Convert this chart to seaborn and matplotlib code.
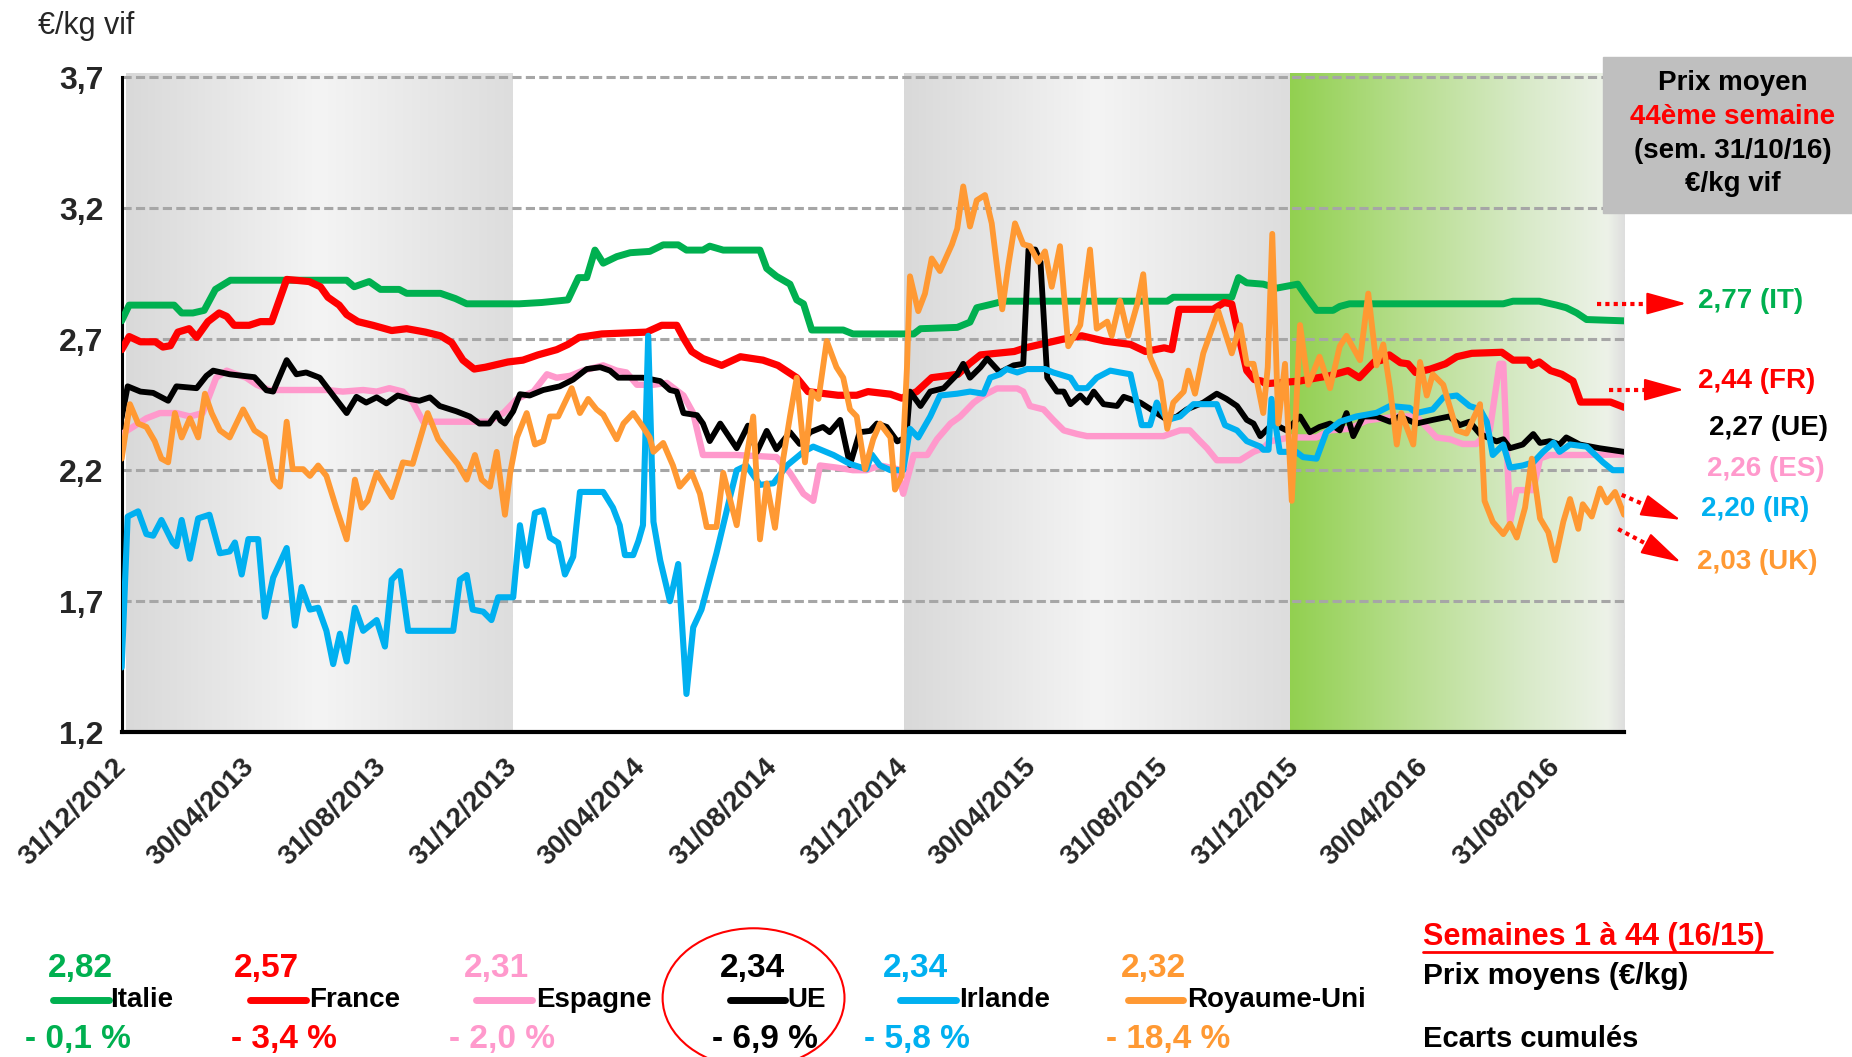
import numpy as np
import pandas as pd
import matplotlib
matplotlib.use('Agg')
import matplotlib.pyplot as plt
import matplotlib.dates as mdates
import seaborn as sns
from matplotlib.patches import Rectangle, Ellipse, FancyArrowPatch
from matplotlib.lines import Line2D

# semaines depuis le 31/12/2012, prix en €/kg vif
it_wk = [0, 1, 7, 8, 9.5, 11, 12.5, 14.5, 30, 31, 33, 34.5, 37, 38, 42.5, 44.5, 46, 53, 56, 59.5, 60.9, 62, 63.1, 64.2,
         66, 67.8, 70.4, 72.2, 74.2, 75.3, 77.5, 78.4, 80.2, 85.1, 86, 87.3, 89.1, 90, 90.9, 92, 96.2, 97.5, 105.6,
         106.5, 111.4, 113.1, 114, 116.2, 117.6, 139.4, 140.2, 148, 148.9, 150, 152.2, 154, 156.8, 158, 159.3, 161.5,
         162.4, 163.7, 184.2, 185.5, 189, 191.3, 192.6, 194, 195.3, 200.3]
it_val = [2.77, 2.83, 2.83, 2.80, 2.80, 2.81, 2.89, 2.925, 2.925, 2.90, 2.92, 2.89, 2.89, 2.875, 2.875, 2.855, 2.835,
          2.835, 2.84, 2.85, 2.935, 2.935, 3.04, 2.99, 3.015, 3.03, 3.035, 3.06, 3.06, 3.04, 3.04, 3.055, 3.04, 3.04,
          2.97, 2.94, 2.91, 2.85, 2.835, 2.735, 2.735, 2.72, 2.72, 2.74, 2.745, 2.765, 2.82, 2.835, 2.845, 2.845, 2.86,
          2.86, 2.935, 2.915, 2.91, 2.895, 2.91, 2.86, 2.81, 2.81, 2.825, 2.835, 2.835, 2.845, 2.845, 2.83, 2.82, 2.80,
          2.775, 2.77]

fr_wk = [0, 1, 2.5, 4.5, 5.5, 6.5, 7.5, 9, 10, 11.5, 13, 14, 15, 17, 18.5, 20, 22, 25, 26.5, 27.5, 29, 30, 31.5, 33.5,
         36, 38, 40.5, 42.5, 44, 45.5, 47, 48.5, 51.5, 53.5, 55.5, 58, 59.5, 61, 64, 70, 72, 74, 75, 76, 77.5, 80, 82.5,
         85.5, 87.5, 90, 91.5, 95.5, 98, 99.5, 102.5, 104, 106, 108, 111.5, 113, 114.5, 119, 120.5, 125.5, 128, 131,
         134.5, 136.5, 139, 140, 141, 145.5, 147, 148, 148.5, 150, 151, 152, 152.5, 157, 159.5, 161, 163.5, 165, 167,
         168, 169, 170.5, 171.5, 172.5, 174.5, 176.5, 178, 180, 184, 185.5, 187.5, 188, 189, 190.5, 192, 193.5, 194.5,
         198.5, 200.3]
fr_val = [2.66, 2.71, 2.69, 2.69, 2.67, 2.675, 2.727, 2.74, 2.707, 2.767, 2.80, 2.787, 2.753, 2.753, 2.767, 2.767,
          2.928, 2.92, 2.90, 2.86, 2.83, 2.794, 2.767, 2.753, 2.733, 2.74, 2.727, 2.713, 2.687, 2.62, 2.586, 2.593,
          2.613, 2.62, 2.64, 2.66, 2.68, 2.707, 2.72, 2.727, 2.753, 2.753, 2.70, 2.653, 2.626, 2.60, 2.633, 2.62, 2.60,
          2.553, 2.50, 2.486, 2.486, 2.50, 2.49, 2.475, 2.50, 2.553, 2.566, 2.606, 2.64, 2.653, 2.667, 2.70, 2.713,
          2.693, 2.68, 2.653, 2.667, 2.66, 2.814, 2.814, 2.84, 2.834, 2.767, 2.58, 2.546, 2.54, 2.53, 2.54, 2.553, 2.56,
          2.58, 2.553, 2.613, 2.62, 2.64, 2.61, 2.606, 2.573, 2.586, 2.606, 2.633, 2.646, 2.65, 2.62, 2.62, 2.60,
          2.613, 2.58, 2.566, 2.54, 2.46, 2.46, 2.44]

es_wk = [0, 1.5, 3.3, 5.1, 7.3, 9.1, 10.8, 11.7, 12.6, 14, 15.3, 16.6, 18, 19.7, 27.3, 29.5, 32.2, 34, 35.7, 37.5,
         38.8, 40.2, 49.1, 50, 50.9, 52.7, 54.9, 56.7, 58, 59.8, 61.5, 64.2, 66, 67.3, 68.7, 70.9, 72.7, 74.9, 76.2,
         77.5, 82, 87.3, 89.1, 90.9, 92.2, 93.1, 95.3, 97.5, 99.3, 101.1, 102.5, 103.4, 104.2, 105.6, 107.4, 108.7,
         110.5, 111.8, 113.6, 114.9, 116.7, 119.4, 120.2, 121.1, 122.9, 124.2, 125.6, 127.4, 128.7, 138.9, 141.1,
         142.4, 143.8, 144.7, 146, 149.1, 150.9, 152.2, 153.1, 155.7, 159.3, 161.1, 163.7, 166, 168.2, 170, 172.6,
         174.4, 175.3, 177.1, 178.8, 180.6, 182.4, 183.7, 184.2, 185.1, 186, 188.2, 189.1, 190.4, 194.8, 200.3]
es_val = [2.338, 2.365, 2.398, 2.418, 2.418, 2.405, 2.418, 2.485, 2.553, 2.58, 2.566, 2.553, 2.526, 2.506, 2.506,
          2.50, 2.506, 2.50, 2.513, 2.50, 2.46, 2.385, 2.385, 2.405, 2.418, 2.472, 2.50, 2.566, 2.553, 2.56, 2.58,
          2.60, 2.58, 2.573, 2.526, 2.526, 2.533, 2.485, 2.418, 2.258, 2.258, 2.25, 2.19, 2.11, 2.083, 2.218, 2.21,
          2.20, 2.20, 2.218, 2.21, 2.204, 2.11, 2.258, 2.258, 2.318, 2.378, 2.405, 2.458, 2.485, 2.512, 2.512, 2.50,
          2.445, 2.432, 2.392, 2.352, 2.338, 2.33, 2.33, 2.352, 2.352, 2.31, 2.284, 2.238, 2.238, 2.27, 2.284, 2.31,
          2.325, 2.325, 2.352, 2.358, 2.39, 2.398, 2.405, 2.405, 2.352, 2.325, 2.318, 2.30, 2.30, 2.352, 2.606, 2.606,
          2.0, 2.124, 2.124, 2.245, 2.258, 2.258, 2.26]

ue_wk = [0, 0.8, 2.5, 4.2, 6.2, 7.3, 10, 11.3, 12.2, 14.4, 16.2, 17.7, 19.3, 20.2, 22, 23.3, 24.6, 26.4, 28.2, 30,
         31.3, 32.6, 34, 35.3, 36.8, 38.4, 39.7, 41.1, 42.4, 44.6, 46.4, 47.7, 49, 50, 50.5, 51.1, 52.2, 53.1, 54.4,
         56.2, 58.4, 60.2, 62, 63.8, 65.1, 66.2, 69.5, 71.8, 73.1, 74, 74.9, 76.7, 77.5, 78.4, 79.8, 82, 83.5, 84.7,
         86, 87.3, 89.1, 90.4, 91.8, 93.5, 94.4, 95.8, 97.1, 98.4, 99.8, 100.7, 102, 103.4, 104.6, 105.1, 106.5, 107.8,
         109.6, 111.4, 112.2, 113.1, 114.5, 115.4, 117.1, 118.9, 120.2, 120.9, 121.8, 122.5, 123.4, 124.7, 125.6,
         126.5, 127.8, 128.7, 129.6, 130.9, 132.7, 133.6, 135.8, 138, 139.4, 140.7, 142, 144.2, 146, 147.3, 148.7, 150,
         150.9, 151.8, 153.5, 155.3, 157.1, 158.4, 159.7, 161.1, 162.4, 163.3, 164.2, 165.5, 167.3, 169.1, 170.4,
         172.6, 174.8, 177, 178.4, 179.7, 181.1, 183.3, 184.2, 185.1, 186.8, 188.2, 189.1, 190.4, 191.7, 192.6, 194.4,
         197, 200.3]
ue_val = [2.40, 2.52, 2.50, 2.495, 2.465, 2.52, 2.513, 2.56, 2.58, 2.566, 2.56, 2.555, 2.505, 2.50, 2.62, 2.566,
          2.573, 2.553, 2.485, 2.418, 2.48, 2.458, 2.478, 2.455, 2.485, 2.472, 2.465, 2.478, 2.445, 2.425, 2.405,
          2.378, 2.378, 2.418, 2.39, 2.378, 2.425, 2.49, 2.485, 2.506, 2.52, 2.546, 2.586, 2.593, 2.58, 2.553, 2.553,
          2.54, 2.506, 2.50, 2.418, 2.41, 2.378, 2.311, 2.378, 2.284, 2.37, 2.27, 2.35, 2.28, 2.345, 2.30, 2.345,
          2.365, 2.345, 2.392, 2.22, 2.345, 2.35, 2.378, 2.365, 2.31, 2.325, 2.50, 2.445, 2.50, 2.513, 2.566, 2.606,
          2.553, 2.593, 2.626, 2.573, 2.60, 2.606, 3.042, 3.042, 2.995, 2.553, 2.50, 2.50, 2.452, 2.485, 2.458, 2.50,
          2.452, 2.445, 2.48, 2.458, 2.418, 2.392, 2.405, 2.432, 2.458, 2.492, 2.472, 2.445, 2.392, 2.378, 2.33,
          2.378, 2.352, 2.405, 2.345, 2.365, 2.378, 2.352, 2.418, 2.33, 2.405, 2.405, 2.385, 2.405, 2.378, 2.392,
          2.405, 2.372, 2.385, 2.338, 2.31, 2.318, 2.284, 2.298, 2.338, 2.304, 2.311, 2.298, 2.325, 2.298, 2.284,
          2.27]

ir_wk = [0, 0.8, 2.2, 3.3, 4.2, 5.3, 6.8, 7.3, 8, 9.1, 10.2, 11.7, 13.1, 14.4, 15.1, 16, 16.9, 18.2, 19.1, 20.2, 22,
         23.1, 24, 25.1, 26.2, 27.3, 28.2, 29.1, 30, 31.1, 32.2, 34, 35.1, 36, 37.1, 38.2, 44.2, 45.1, 46, 46.8, 48.2,
         49.3, 50.2, 52.2, 53.1, 54, 55.1, 56.2, 57.1, 58.2, 59.1, 60.2, 61.1, 64.2, 65.5, 66.4, 67.1, 68.2, 68.9, 69.5,
         70.2, 70.9, 71.8, 73.1, 74.2, 75.3, 76.2, 77.3, 79.3, 81.1, 82, 83.3, 85.1, 86.9, 88.7, 90.9, 92.2, 94.9, 97.1,
         99.3, 100, 101.1, 102.5, 104.2, 105.1, 106.2, 107.8, 109.1, 111.4, 113.1, 114.9, 115.8, 117.1, 118, 119.4,
         120.7, 123.1, 124.2, 126.5, 127.4, 128.7, 130, 131.8, 133.1, 134.5, 136, 137.1, 138, 139.4, 141.1, 142.9,
         146, 147.1, 148.7, 150, 151.8, 152.2, 152.9, 153.3, 154.4, 156.6, 157.5, 159.3, 160.6, 162.4, 164.6, 167.3,
         169.1, 171.7, 172.6, 174.8, 176.2, 178, 179.7, 181.1, 182, 182.8, 184.2, 185.1, 186.8, 188.2, 189.5, 190.9,
         191.7, 193.1, 195.3, 197.5, 198.8, 200.3]
ir_val = [1.447, 2.023, 2.043, 1.956, 1.95, 2.01, 1.924, 1.91, 2.01, 1.862, 2.016, 2.03, 1.883, 1.89, 1.924, 1.802,
          1.937, 1.937, 1.641, 1.79, 1.903, 1.607, 1.754, 1.668, 1.675, 1.587, 1.46, 1.576, 1.47, 1.675, 1.587,
          1.628, 1.527, 1.782, 1.815, 1.587, 1.587, 1.782, 1.80, 1.668, 1.66, 1.628, 1.715, 1.715, 1.99, 1.835, 2.037,
          2.047, 1.943, 1.923, 1.802, 1.87, 2.117, 2.117, 2.057, 1.99, 1.876, 1.876, 1.93, 1.99, 2.713, 2.003, 1.856,
          1.70, 1.842, 1.346, 1.60, 1.668, 1.883, 2.097, 2.20, 2.218, 2.144, 2.15, 2.218, 2.27, 2.29, 2.258, 2.224,
          2.204, 2.26, 2.218, 2.20, 2.20, 2.358, 2.325, 2.405, 2.485, 2.492, 2.50, 2.492, 2.553, 2.566, 2.586, 2.573,
          2.586, 2.586, 2.573, 2.553, 2.513, 2.513, 2.553, 2.58, 2.573, 2.566, 2.372, 2.372, 2.458, 2.392, 2.405,
          2.452, 2.452, 2.372, 2.352, 2.311, 2.29, 2.278, 2.278, 2.472, 2.27, 2.27, 2.25, 2.244, 2.345, 2.385, 2.405,
          2.419, 2.445, 2.438, 2.418, 2.432, 2.478, 2.485, 2.445, 2.432, 2.385, 2.258, 2.298, 2.21, 2.218, 2.23, 2.27,
          2.305, 2.27, 2.298, 2.29, 2.23, 2.20, 2.20]

uk_wk = [0, 1.1, 2.2, 3.3, 4.4, 5.3, 6.2, 7.1, 8, 9.1, 10.2, 11.1, 12, 13.1, 14.4, 16.2, 17.7, 19.1, 20.2, 21.1, 22,
         22.8, 24.2, 25.1, 26.2, 27.3, 28.6, 30, 31.1, 32, 32.8, 34, 36, 37.5, 38.8, 40.8, 42.2, 43.5, 44.8, 46, 47.1,
         48, 49.1, 50, 51.1, 51.8, 52.7, 54, 55.1, 56.2, 57.1, 58.2, 60, 61.1, 62.2, 63.3, 64.2, 66, 66.9, 68.2, 69.5,
         70.4, 70.9, 72.2, 73.5, 74.4, 76, 77.1, 78, 79.3, 80.2, 82, 82.9, 84.2, 85.1, 86, 87.1, 88.2, 89.1, 90, 91.1,
         92, 92.9, 94, 95.3, 96.2, 97.1, 98, 99.1, 100.2, 101.1, 102.5, 103.1, 104, 104.7, 105.1, 106.2, 107.1, 108,
         109.1, 110.7, 111.4, 112.2, 113.1, 114, 115.1, 116, 117.4, 118.2, 119.1, 120.2, 121.1, 122.2, 123.1, 124,
         125.1, 126.2, 127.8, 129.1, 130, 131.4, 132, 133.1, 134.2, 135.4, 136.2, 137.1, 138.5, 139.4, 140.2, 141.6,
         142.2, 143.1, 144.2, 146.2, 148, 149.1, 150, 150.9, 152.2, 152.8, 153.4, 154.2, 155.1, 156, 157.1, 158.2,
         159.7, 161.1, 162.4, 163.3, 165.1, 166.2, 167.3, 168.2, 169.1, 170, 170.6, 172.2, 173.1, 174, 174.8, 176.2,
         178, 179.3, 181.1, 181.7, 182.8, 184.2, 185.1, 186, 187.1, 188, 189.1, 190.2, 191.1, 192.2, 193.1, 194.2,
         194.8, 196, 197.1, 198, 199.1, 200.3]
uk_val = [2.244, 2.452, 2.378, 2.365, 2.311, 2.244, 2.23, 2.418, 2.325, 2.398, 2.325, 2.492, 2.418, 2.352, 2.325,
          2.432, 2.352, 2.325, 2.164, 2.137, 2.385, 2.204, 2.204, 2.178, 2.218, 2.178, 2.057, 1.936, 2.164, 2.057,
          2.083, 2.19, 2.097, 2.23, 2.224, 2.418, 2.318, 2.27, 2.224, 2.164, 2.258, 2.164, 2.137, 2.27, 2.03, 2.19,
          2.325, 2.418, 2.298, 2.311, 2.405, 2.405, 2.513, 2.418, 2.472, 2.432, 2.412, 2.318, 2.378, 2.418, 2.365,
          2.325, 2.27, 2.304, 2.218, 2.137, 2.19, 2.11, 1.983, 1.983, 2.19, 1.99, 2.178, 2.405, 1.936, 2.15, 1.98,
          2.244, 2.405, 2.553, 2.23, 2.50, 2.472, 2.693, 2.593, 2.553, 2.432, 2.405, 2.204, 2.318, 2.378, 2.325,
          2.126, 2.178, 2.593, 2.94, 2.807, 2.874, 3.008, 2.96, 3.062, 3.122, 3.283, 3.13, 3.23, 3.25, 3.142, 2.814,
          2.98, 3.142, 3.062, 3.055, 2.995, 3.035, 2.90, 3.055, 2.673, 2.754, 3.042, 2.74, 2.767, 2.713, 2.847, 2.713,
          2.834, 2.948, 2.633, 2.54, 2.358, 2.458, 2.50, 2.58, 2.492, 2.646, 2.807, 2.646, 2.754, 2.606, 2.606, 2.418,
          2.593, 3.102, 2.378, 2.606, 2.083, 2.754, 2.526, 2.633, 2.513, 2.673, 2.713, 2.62, 2.874, 2.60, 2.68, 2.513,
          2.298, 2.418, 2.298, 2.613, 2.485, 2.566, 2.526, 2.352, 2.34, 2.452, 2.083, 2.003, 1.956, 1.996, 1.943,
          2.057, 2.244, 2.016, 1.963, 1.856, 2.003, 2.09, 1.976, 2.07, 2.023, 2.13, 2.077, 2.117, 2.03]

pays = ['Italie', 'France', 'Espagne', 'UE', 'Irlande', 'Royaume-Uni']
codes = ['IT', 'FR', 'ES', 'UE', 'IR', 'UK']
couleurs = ['#00b050', '#ff0000', '#ff99cc', '#000000', '#00b0f0', '#ff9933']
prix_moyens = [2.82, 2.57, 2.31, 2.34, 2.34, 2.32]
ecarts = [-0.1, -3.4, -2.0, -6.9, -5.8, -18.4]
tick_dates = ['2012-12-31', '2013-04-30', '2013-08-31', '2013-12-31', '2014-04-30', '2014-08-31',
              '2014-12-31', '2015-04-30', '2015-08-31', '2015-12-31', '2016-04-30', '2016-08-31']

sns.set_style('white')
plt.rcParams['font.family'] = ['Liberation Sans', 'DejaVu Sans']

W, H = 1568, 895
def fx(x): return x / W
def fy(y): return 1 - y / H

fig = plt.figure(figsize=(18.52, 10.57), dpi=100)
ax = fig.add_axes([fx(103), fy(620), fx(1375) - fx(103), fy(62) - fy(620)])

base = pd.Timestamp('2012-12-31')
def to_dates(wk):
    return base + pd.to_timedelta(np.array(wk) * 7, unit='D')

xmin, xmax = base, base + pd.Timedelta(days=200.3 * 7)
ymin, ymax = 1.2, 3.715

# fonds en dégradé (années 2013, 2015 grises, 2016 verte)
def gradient(stops, n=256):
    pos = np.array([s[0] for s in stops])
    cols = np.array([matplotlib.colors.to_rgb(s[1]) for s in stops])
    t = np.linspace(0, 1, n)
    return np.stack([np.interp(t, pos, cols[:, k]) for k in range(3)], axis=-1)[None, :, :]

gris = gradient([(0, '#d9d9d9'), (0.5, '#f4f4f4'), (1, '#dddddd')])
vert = gradient([(0, '#92d050'), (0.35, '#b7de8e'), (0.7, '#d8eac8'), (0.95, '#edf2e8'), (1, '#dedede')])
bands = [(base + pd.Timedelta(days=4), pd.Timestamp('2013-12-31'), gris),
         (pd.Timestamp('2014-12-31'), pd.Timestamp('2015-12-26'), gris),
         (pd.Timestamp('2015-12-26'), xmax, vert)]
for d0, d1, img in bands:
    ax.imshow(img, extent=[mdates.date2num(d0), mdates.date2num(d1), ymin, ymax],
              aspect='auto', interpolation='bilinear', zorder=0)

for yv in [1.7, 2.2, 2.7, 3.2, 3.7]:
    ax.axhline(yv, color='#a6a6a6', lw=2.2, dashes=(3, 1.4), zorder=1)

series = [(it_wk, it_val), (fr_wk, fr_val), (es_wk, es_val), (ue_wk, ue_val), (ir_wk, ir_val), (uk_wk, uk_val)]
widths = [5.0, 5.2, 4.6, 4.2, 4.4, 4.2]
for (wk, val), c, lw, nom in zip(series, couleurs, widths, pays):
    df = pd.DataFrame({'date': to_dates(wk), 'prix': val})
    sns.lineplot(data=df, x='date', y='prix', color=c, lw=lw, ax=ax, legend=False,
                 estimator=None, sort=False, zorder=3)

ax.set_xlim(xmin, xmax)
ax.set_ylim(ymin, ymax)
ax.set_xlabel('')
ax.set_ylabel('')

ax.set_xticks(pd.to_datetime(tick_dates))
ax.set_xticklabels([pd.Timestamp(d).strftime('%d/%m/%Y') for d in tick_dates], rotation=45,
                   ha='right', va='center', rotation_mode='anchor', fontsize=20, fontweight='bold')
yt = [1.2, 1.7, 2.2, 2.7, 3.2, 3.7]
ax.set_yticks(yt)
ax.set_yticklabels([f'{v:.1f}'.replace('.', ',') for v in yt], fontsize=23, fontweight='bold')
ax.tick_params(axis='x', length=8, width=2.5, direction='out', pad=14, color='black')
ax.tick_params(axis='y', length=7, width=2, direction='out', pad=6, color='black')
for s in ['top', 'right']:
    ax.spines[s].set_visible(False)
ax.spines['left'].set_linewidth(2.2)
ax.spines['left'].set_color('black')
ax.spines['left'].set_bounds(1.2, 3.7)
ax.spines['bottom'].set_linewidth(3)
ax.spines['bottom'].set_color('black')

fig.text(fx(32), fy(22), '€/kg vif', fontsize=22, va='center', ha='left')

# encadré prix moyen
fig.add_artist(Rectangle((fx(1357), fy(180)), fx(1568) - fx(1357), fy(48) - fy(180),
                         transform=fig.transFigure, color='#bfbfbf', zorder=5))
for txt, col, yy in [('Prix moyen', 'black', 70), ('44ème semaine', 'red', 99),
                     ('(sem. 31/10/16)', 'black', 128), ('€/kg vif', 'black', 156)]:
    fig.text(fx(1467), fy(yy), txt, color=col, fontsize=20, fontweight='bold',
             ha='center', va='center', zorder=6)

# étiquettes de fin de courbe
lab_pos = [(1438, 255), (1438, 323), (1445, 397), (1447, 362), (1440, 431), (1437, 476)]
for (wk, val), c, code, (lx, ly) in zip(series, couleurs, codes, lab_pos):
    fig.text(fx(lx), fy(ly), f'{val[-1]:.2f}'.replace('.', ',') + f' ({code})', color=c,
             fontsize=20, fontweight='bold', ha='left', va='center')

arrows = [((1352, 257), (1415, 257), (1430, 257)),
          ((1362, 330), (1414, 330), (1428, 330)),
          ((1373, 419), (1410, 435), (1425, 441)),
          ((1370, 448), (1410, 469), (1425, 477))]
for p0, p1, tip in arrows:
    fig.add_artist(Line2D([fx(p0[0]), fx(p1[0])], [fy(p0[1]), fy(p1[1])], transform=fig.transFigure,
                          color='red', lw=3, ls=(0, (1, 1))))
    fig.add_artist(FancyArrowPatch((fx(p1[0]), fy(p1[1])), (fx(tip[0]), fy(tip[1])),
                                   transform=fig.transFigure, arrowstyle='-|>,head_length=0.9,head_width=0.25',
                                   mutation_scale=28, color='red', lw=1.5))

# légende du bas
val_x = [68, 226, 420, 637, 775, 977]
line_x = [45, 212, 403, 618, 762, 955]
lab_x = [93, 262, 454, 667, 812, 1005]
pct_x = [66, 240, 425, 648, 776, 989]
for i, nom in enumerate(pays):
    c = couleurs[i]
    fig.text(fx(val_x[i]), fy(820), f'{prix_moyens[i]:.2f}'.replace('.', ','), color=c, fontsize=24,
             fontweight='bold', ha='center', va='center')
    fig.add_artist(Line2D([fx(line_x[i]), fx(line_x[i] + 47)], [fy(847), fy(847)], transform=fig.transFigure,
                          color=c, lw=5, solid_capstyle='round'))
    fig.text(fx(lab_x[i]), fy(847), nom, color='black', fontsize=20, fontweight='bold', ha='left', va='center')
    fig.text(fx(pct_x[i]), fy(880), '- ' + f'{abs(ecarts[i]):.1f}'.replace('.', ',') + ' %', color=c,
             fontsize=24, fontweight='bold', ha='center', va='center')

fig.add_artist(Ellipse((fx(638), fy(845)), fx(154), 118 / H, transform=fig.transFigure,
                       fill=False, ec='red', lw=1.5))

fig.text(fx(1205), fy(793), 'Semaines 1 à 44 (16/15)', color='red', fontsize=22, fontweight='bold',
         ha='left', va='center')
fig.add_artist(Line2D([fx(1205), fx(1500)], [fy(806), fy(806)], transform=fig.transFigure, color='red', lw=2))
fig.text(fx(1205), fy(826), 'Prix moyens (€/kg)', color='black', fontsize=21.5, fontweight='bold',
         ha='left', va='center')
fig.text(fx(1205), fy(880), 'Ecarts cumulés', color='black', fontsize=21, fontweight='bold',
         ha='left', va='center')

fig.savefig('out.png', dpi=100)
